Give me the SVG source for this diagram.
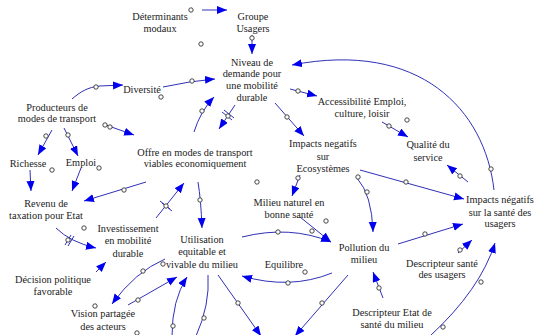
<svg xmlns="http://www.w3.org/2000/svg" width="535" height="335" viewBox="0 0 535 335" font-family="'Liberation Serif', 'DejaVu Serif', serif">
<defs>
<marker id="ah" markerUnits="userSpaceOnUse" markerWidth="12" markerHeight="10" refX="10" refY="4" orient="auto">
<path d="M0,0 L10,4 L0,8 z" fill="#0000ee"/>
</marker>
<style>
text{font-family:'Liberation Serif','DejaVu Serif',serif;font-size:10.3px;fill:#222;text-anchor:middle}
.c path{fill:none;stroke:#3030b8;stroke-width:1;marker-end:url(#ah)}
.c line.d{stroke:#3030b8;stroke-width:1}
circle.o{fill:#fff;stroke:#333;stroke-width:0.9}
</style>
</defs>
<rect width="535" height="335" fill="#fff"/>
<g class="c" id="connectors">
<path d="M202,10 L227,10"/>
<path d="M252,35 L252,54"/>
<path d="M72,99 C80,92 88,87 100,86 L123,85"/>
<path d="M163,87 Q190,81 215,79"/>
<path d="M194,132 Q200,112 214,97"/>
<path d="M235,105 L219,129"/>
<path d="M275,103 L304,136"/>
<path d="M290,89 L317,96"/>
<path d="M494,190 C485,110 420,40 292,65"/>
<path d="M382,122 L408,137"/>
<path d="M468,182 L447,165"/>
<path d="M103,124 L134,135"/>
<path d="M52,130 L38,155"/>
<path d="M64,128 L78,156"/>
<path d="M30,170 L31,191"/>
<path d="M81,168 L72,191"/>
<path d="M146,182 L84,201"/>
<path d="M156,218 L184,183"/>
<path d="M198,182 Q201,200 202,228"/>
<path d="M56,228 Q70,242 96,248"/>
<path d="M96,272 L106,262"/>
<path d="M165,259 Q135,272 112,304"/>
<path d="M128,305 L177,277"/>
<path d="M172,336 Q172,300 187,277"/>
<path d="M208,275 Q210,305 196,336" style="marker-end:none"/>
<path d="M218,275 L261,336"/>
<path d="M332,273 Q290,290 242,276"/>
<path d="M242,237 Q290,225 331,242"/>
<path d="M300,217 L331,242"/>
<path d="M300,175 L292,196"/>
<path d="M357,178 Q372,195 373,232"/>
<path d="M360,170 L464,199"/>
<path d="M398,244 L463,224"/>
<path d="M458,253 L472,240"/>
<path d="M383,298 L373,272"/>
<path d="M430,336 Q480,290 495,243"/>
<path d="M348,275 L295,336"/>
<line class="d" x1="222" y1="112" x2="232" y2="120"/>
<line class="d" x1="224" y1="110" x2="234" y2="118"/>
<line class="d" x1="160" y1="201" x2="170" y2="209"/>
<line class="d" x1="162" y1="203" x2="172" y2="211"/>
<line class="d" x1="65" y1="245" x2="71" y2="235"/>
<line class="d" x1="68" y1="246" x2="74" y2="236"/>
<circle class="o" cx="191" cy="10" r="2.2"/>
<circle class="o" cx="252" cy="38" r="2.2"/>
<circle class="o" cx="96" cy="87" r="2.2"/>
<circle class="o" cx="192" cy="81" r="2.2"/>
<circle class="o" cx="202" cy="111" r="2.2"/>
<circle class="o" cx="228" cy="116" r="2.2"/>
<circle class="o" cx="287" cy="117" r="2.2"/>
<circle class="o" cx="298" cy="91" r="2.2"/>
<circle class="o" cx="491" cy="169" r="2.2"/>
<circle class="o" cx="389" cy="126" r="2.2"/>
<circle class="o" cx="460" cy="176" r="2.2"/>
<circle class="o" cx="105" cy="125" r="2.2"/>
<circle class="o" cx="110" cy="127" r="2.2"/>
<circle class="o" cx="46" cy="136" r="2.2"/>
<circle class="o" cx="68" cy="135" r="2.2"/>
<circle class="o" cx="124" cy="190" r="2.2"/>
<circle class="o" cx="166" cy="206" r="2.2"/>
<circle class="o" cx="200" cy="200" r="2.2"/>
<circle class="o" cx="68" cy="240" r="2.2"/>
<circle class="o" cx="143" cy="271" r="2.2"/>
<circle class="o" cx="138" cy="300" r="2.2"/>
<circle class="o" cx="173" cy="326" r="2.2"/>
<circle class="o" cx="204" cy="318" r="2.2"/>
<circle class="o" cx="238" cy="303" r="2.2"/>
<circle class="o" cx="288" cy="283" r="2.2"/>
<circle class="o" cx="278" cy="232" r="2.2"/>
<circle class="o" cx="312" cy="231" r="2.2"/>
<circle class="o" cx="298" cy="178" r="2.2"/>
<circle class="o" cx="367" cy="192" r="2.2"/>
<circle class="o" cx="406" cy="182" r="2.2"/>
<circle class="o" cx="425" cy="234" r="2.2"/>
<circle class="o" cx="460" cy="250" r="2.2"/>
<circle class="o" cx="379" cy="288" r="2.2"/>
<circle class="o" cx="443" cy="327" r="2.2"/>
<circle class="o" cx="481" cy="282" r="2.2"/>
<circle class="o" cx="322" cy="303" r="2.2"/>
<circle class="o" cx="201" cy="44" r="2.2"/>
<circle class="o" cx="161" cy="97" r="2.2"/>
<circle class="o" cx="52" cy="170" r="2.2"/>
<circle class="o" cx="99" cy="168" r="2.2"/>
<circle class="o" cx="257" cy="182" r="2.2"/>
<circle class="o" cx="326" cy="221" r="2.2"/>
<circle class="o" cx="358" cy="177" r="2.2"/>
<circle class="o" cx="407" cy="120" r="2.2"/>
<circle class="o" cx="84" cy="228" r="2.2"/>
<circle class="o" cx="163" cy="264" r="2.2"/>
<circle class="o" cx="95" cy="306" r="2.2"/>
<circle class="o" cx="137" cy="333" r="2.2"/>
<circle class="o" cx="305" cy="272" r="2.2"/>
</g>
<g id="determinants"><text x="160" y="19.5">Déterminants</text><text x="160" y="31.5">modaux</text></g>
<g id="groupe"><text x="253" y="19.5">Groupe</text><text x="253" y="31.5">Usagers</text></g>
<g id="niveau"><text x="252" y="65.5">Niveau de</text><text x="252" y="77">demande pour</text><text x="252" y="89">une mobilité</text><text x="252" y="101">durable</text></g>
<g id="diversite"><text x="142" y="93">Diversité</text></g>
<g id="producteurs"><text x="57" y="110.5">Producteurs de</text><text x="57" y="122">modes de transport</text></g>
<g id="richesse"><text x="28" y="166.5">Richesse</text></g>
<g id="emploi"><text x="81" y="165.5">Emploi</text></g>
<g id="offre"><text x="195" y="155.5">Offre en modes de transport</text><text x="195" y="167">viables economiquement</text></g>
<g id="revenu"><text x="46" y="206.5">Revenu de</text><text x="46" y="219">taxation pour Etat</text></g>
<g id="investissement"><text x="128" y="231.5">Investissement</text><text x="128" y="244">en mobilité</text><text x="128" y="256.5">durable</text></g>
<g id="utilisation"><text x="202" y="242.5">Utilisation</text><text x="202" y="255">equitable et</text><text x="202" y="267.5">vivable du milieu</text></g>
<g id="decision"><text x="53" y="282.5">Décision politique</text><text x="53" y="294.5">favorable</text></g>
<g id="vision"><text x="103" y="316.5">Vision partagée</text><text x="103" y="329.5">des acteurs</text></g>
<g id="ecosystemes"><text x="323" y="147">Impacts negatifs</text><text x="323" y="159.5">sur</text><text x="323" y="172">Ecosystèmes</text></g>
<g id="milieu"><text x="289" y="205.5">Milieu naturel en</text><text x="289" y="217.5">bonne santé</text></g>
<g id="equilibre"><text x="284" y="267.5">Equilibre</text></g>
<g id="pollution"><text x="364" y="250.5">Pollution du</text><text x="364" y="263">milieu</text></g>
<g id="accessibilite"><text x="362" y="104.5">Accessibilité Emploi,</text><text x="362" y="117">culture, loisir</text></g>
<g id="qualite"><text x="428" y="147.5">Qualité du</text><text x="428" y="160.5">service</text></g>
<g id="sante"><text x="500" y="202.5">Impacts négatifs</text><text x="500" y="215.5">sur la santé des</text><text x="500" y="227">usagers</text></g>
<g id="descripteur-sante"><text x="442" y="266.5">Descripteur santé</text><text x="442" y="278">des usagers</text></g>
<g id="descripteur-etat"><text x="392" y="315.5">Descripteur Etat de</text><text x="392" y="328">santé du milieu</text></g>
</svg>
